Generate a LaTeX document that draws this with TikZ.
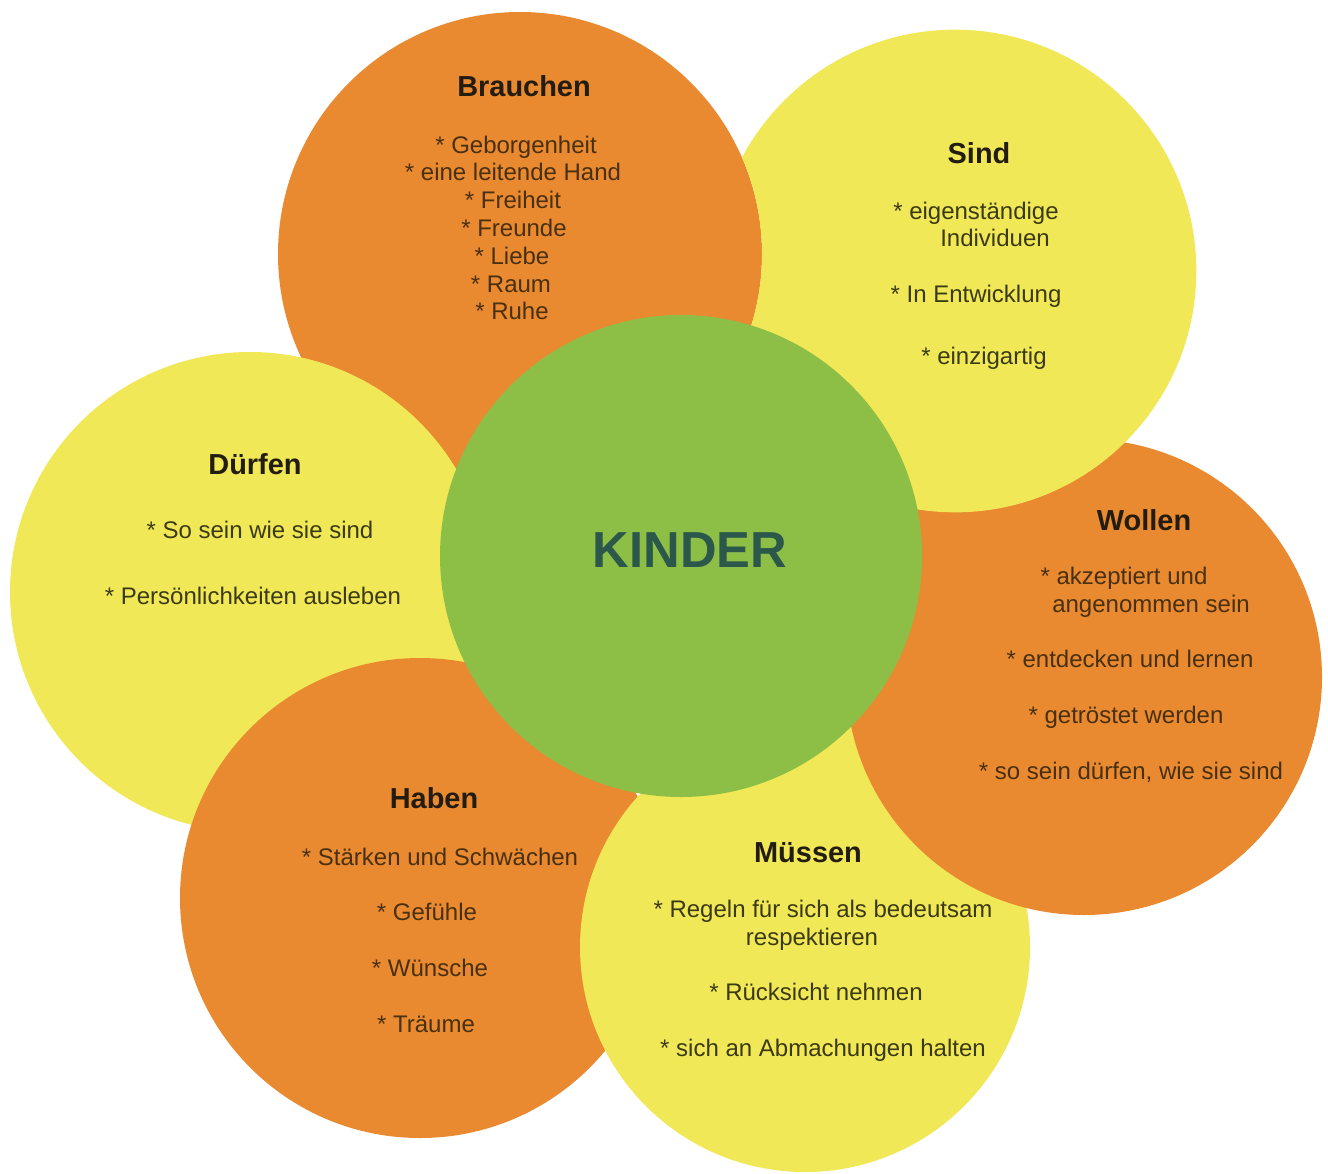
\documentclass[tikz,border=0pt]{standalone}
\usepackage{fontspec}
\setmainfont{Liberation Sans}
\definecolor{orangec}{RGB}{233,137,48}
\definecolor{yellowc}{RGB}{240,232,86}
\definecolor{greenc}{RGB}{141,191,70}
\definecolor{titlec}{RGB}{35,28,16}
\definecolor{itemo}{RGB}{72,48,16}
\definecolor{itemy}{RGB}{60,58,20}
\definecolor{kinderc}{RGB}{43,88,74}
\tikzset{
  ttl/.style={anchor=base, inner sep=0pt, text=titlec, font=\fontsize{21.7pt}{26pt}\selectfont\bfseries},
  itmo/.style={anchor=base, inner sep=0pt, text=itemo, font=\fontsize{18pt}{21pt}\selectfont},
  itmy/.style={anchor=base, inner sep=0pt, text=itemy, font=\fontsize{18pt}{21pt}\selectfont},
  big/.style={anchor=base, inner sep=0pt, text=kinderc, font=\fontsize{38pt}{44pt}\selectfont\bfseries}
}
\begin{document}
\begin{tikzpicture}[x=0.75pt,y=-0.75pt]
\useasboundingbox (0,0) rectangle (1328,1174);
% circles (each overlaps its clockwise neighbour)
\fill[orangec] (520,254) circle[radius=181.5pt];   % Brauchen
\fill[yellowc] (250,592) circle[radius=180pt];     % Duerfen
\fill[orangec] (420,898) circle[radius=180pt];     % Haben
\fill[yellowc] (805,947) circle[radius=168.75pt];  % Muessen
\fill[orangec] (1084,677) circle[radius=178.5pt];  % Wollen
\begin{scope}                                       % Sind, lying under Brauchen
  % half-plane on Sind's side of the radical line of Sind and Brauchen
  \clip (749.6,-40) -- (718.4,762.5) -- (1400,762.5) -- (1400,-40) -- cycle;
  \fill[yellowc, even odd rule] (955,271) circle[radius=181pt]
                                (520,254) circle[radius=181.5pt];
\end{scope}
\fill[greenc] (681,556) circle[radius=180.75pt];   % KINDER

\node[big] (kinder) at (690,567) {KINDER};

% Brauchen
\node[ttl] (b0) at (524,96) {Brauchen};
\node[itmo] (b1) at (516,153) {* Geborgenheit};
\node[itmo] (b2) at (513,180) {* eine leitende Hand};
\node[itmo] (b3) at (513,208) {* Freiheit};
\node[itmo] (b4) at (514,236) {* Freunde};
\node[itmo] (b5) at (512,264) {* Liebe};
\node[itmo] (b6) at (511,292) {* Raum};
\node[itmo] (b7) at (512,319) {* Ruhe};

% Sind
\node[ttl] (s0) at (979,163) {Sind};
\node[itmy] (s1) at (976,219) {* eigenständige};
\node[itmy] (s2) at (995,246) {Individuen};
\node[itmy] (s3) at (976,302) {* In Entwicklung};
\node[itmy] (s4) at (984,364) {* einzigartig};

% Wollen
\node[ttl] (w0) at (1144,530) {Wollen};
\node[itmo] (w1) at (1124,584) {* akzeptiert und};
\node[itmo] (w2) at (1151,612) {angenommen sein};
\node[itmo] (w3) at (1130,667) {* entdecken und lernen};
\node[itmo] (w4) at (1126,723) {* getröstet werden};
\node[itmo] (w5) at (1131,779) {* so sein dürfen, wie sie sind};

% Muessen
\node[ttl] (m0) at (808,862) {Müssen};
\node[itmy] (m1) at (823,917) {* Regeln für sich als bedeutsam};
\node[itmy] (m2) at (812,945) {respektieren};
\node[itmy] (m3) at (816,1000) {* Rücksicht nehmen};
\node[itmy] (m4) at (823,1056) {* sich an Abmachungen halten};

% Haben
\node[ttl] (h0) at (434,808) {Haben};
\node[itmo] (h1) at (440,865) {* Stärken und Schwächen};
\node[itmo] (h2) at (427,920) {* Gefühle};
\node[itmo] (h3) at (430,976) {* Wünsche};
\node[itmo] (h4) at (426,1032) {* Träume};

% Duerfen
\node[ttl] (d0) at (255,474) {Dürfen};
\node[itmy] (d1) at (260,538) {* So sein wie sie sind};
\node[itmy] (d2) at (253,604) {* Persönlichkeiten ausleben};
\end{tikzpicture}
\end{document}
